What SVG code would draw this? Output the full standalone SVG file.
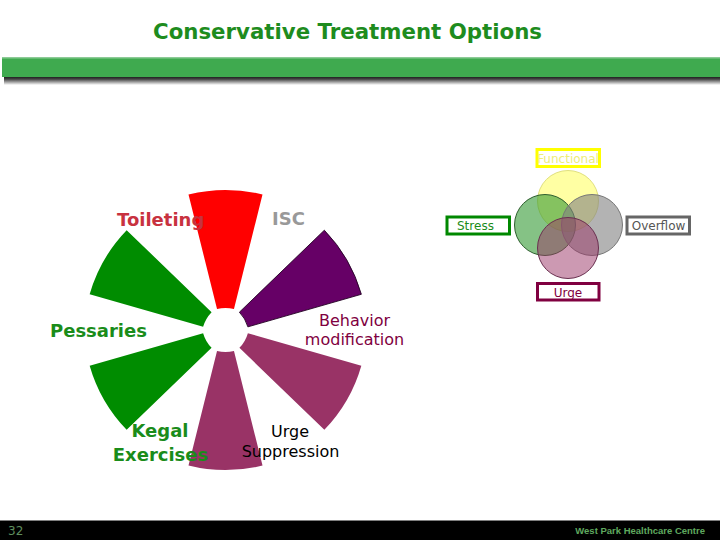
<svg xmlns="http://www.w3.org/2000/svg" width="720" height="540" viewBox="0 0 720 540">
<defs>
<linearGradient id="shadow" x1="0" y1="0" x2="0" y2="1">
<stop offset="0" stop-color="#111"/>
<stop offset="0.35" stop-color="#444"/>
<stop offset="1" stop-color="#fff"/>
</linearGradient>
<path id="wedge" d="M -8.47,-33.96 L -37.0,-148.5 A 153 153 0 0 1 37.0,-148.5 L 8.47,-33.96 A 35 35 0 0 0 -8.47,-33.96 Z"/>
</defs>
<style>
.lbl{font-family:"DejaVu Sans",Verdana,sans-serif;font-size:18px;font-weight:bold}
.lbn{font-family:"DejaVu Sans",Verdana,sans-serif;font-size:16px}
.vl{font-family:"DejaVu Sans",Verdana,sans-serif;font-size:12px}
.vbox{fill:#fff;stroke-width:3}
.circ{stroke-width:1}
</style>
<rect width="720" height="540" fill="#fff"/>
<g id="header">
<text x="347.5" y="39" text-anchor="middle" textLength="389" lengthAdjust="spacingAndGlyphs" style="font-family:'DejaVu Sans',Verdana,sans-serif;font-size:22px;font-weight:bold" fill="#1E8C1E">Conservative Treatment Options</text>
<rect x="4" y="76" width="716" height="9" fill="url(#shadow)"/>
<rect x="2" y="57" width="718" height="20" fill="#3FAA4F"/>
<rect x="2" y="57" width="718" height="1.5" fill="#8CCB96"/>
</g>
<g id="wheel" transform="translate(225.5,330)">
<g id="w-toileting"><use href="#wedge" transform="rotate(0) translate(0,13)" fill="#FF0000"/></g>
<g id="w-isc"><use href="#wedge" transform="rotate(60) translate(0,13)" fill="#660066" stroke="#220022" stroke-width="0.8"/></g>
<g id="w-behavior"><use href="#wedge" transform="rotate(120) translate(0,13)" fill="#993366"/></g>
<g id="w-urge"><use href="#wedge" transform="rotate(180) translate(0,13)" fill="#993366"/></g>
<g id="w-kegal"><use href="#wedge" transform="rotate(240) translate(0,13)" fill="#008C00"/></g>
<g id="w-pessaries"><use href="#wedge" transform="rotate(300) translate(0,13)" fill="#008C00"/></g>
</g>
<g id="toileting"><text class="lbl" x="117" y="226" fill="#C8323F">Toileting</text></g>
<g id="isc"><text class="lbl" x="272" y="225" fill="#999999">ISC</text></g>
<g id="pessaries"><text class="lbl" x="50" y="337" fill="#1A8C1A">Pessaries</text></g>
<g id="kegal"><text class="lbl" x="160" y="437" text-anchor="middle" fill="#1A8C1A">Kegal</text><text class="lbl" x="160.5" y="461" text-anchor="middle" fill="#1A8C1A">Exercises</text></g>
<g id="behavior"><text class="lbn" x="354.5" y="326" text-anchor="middle" fill="#800040">Behavior</text><text class="lbn" x="354.5" y="345" text-anchor="middle" fill="#800040">modification</text></g>
<g id="urgesup"><text class="lbn" x="290" y="437" text-anchor="middle" fill="#000">Urge</text><text class="lbn" x="290.5" y="457" text-anchor="middle" fill="#000">Suppression</text></g>
<g id="venn">
<circle class="circ" cx="568" cy="201" r="30.5" fill="#FFFF66" fill-opacity="0.6" stroke="#E0E080"/>
<circle class="circ" cx="545" cy="225" r="30.5" fill="#339933" fill-opacity="0.6" stroke="#2F5F2F"/>
<circle class="circ" cx="592" cy="225" r="30.5" fill="#808080" fill-opacity="0.6" stroke="#777"/>
<circle class="circ" cx="568" cy="248" r="30.5" fill="#993366" fill-opacity="0.5" stroke="#6A3050"/>
</g>
<g id="functional"><rect class="vbox" x="537" y="149.5" width="62.5" height="17" stroke="#FFFF00"/><text class="vl" x="568" y="162.5" text-anchor="middle" fill="#EEEE77">Functional</text></g>
<g id="stress"><rect class="vbox" x="447" y="217" width="62.5" height="17" stroke="#008800"/><text class="vl" x="457" y="230" fill="#1A8C1A">Stress</text></g>
<g id="overflow"><rect class="vbox" x="627" y="217" width="62.5" height="17" stroke="#666666"/><text class="vl" x="658.5" y="230" text-anchor="middle" fill="#555">Overflow</text></g>
<g id="urge"><rect class="vbox" x="537.5" y="283.5" width="61.5" height="16.5" stroke="#800040"/><text class="vl" x="568" y="296.5" text-anchor="middle" fill="#800040">Urge</text></g>
<g id="footer">
<rect x="0" y="520.5" width="720" height="19.5" fill="#000"/>
<text x="8" y="535" style="font-family:'DejaVu Sans',sans-serif;font-size:12px" fill="#5E8E5E">32</text>
<text x="705" y="534" text-anchor="end" style="font-family:'Liberation Sans',Arial,sans-serif;font-size:9.5px;font-weight:bold" fill="#5FA85F">West Park Healthcare Centre</text>
</g>
</svg>
